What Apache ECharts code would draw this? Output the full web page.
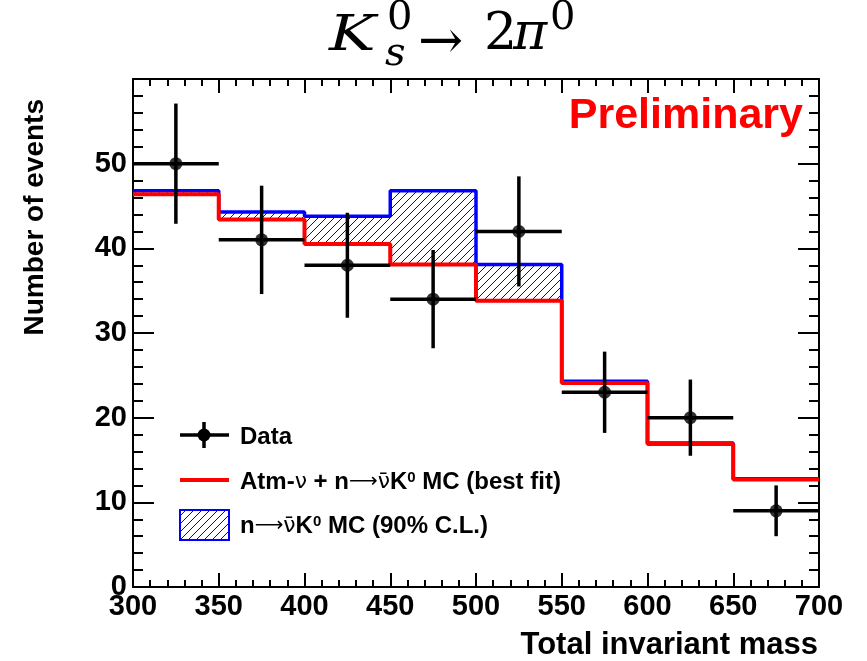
<!DOCTYPE html>
<html>
<head>
<meta charset="utf-8">
<script src="https://cdn.jsdelivr.net/npm/echarts@6/dist/echarts.min.js"></script>
<style>
html,body{margin:0;padding:0;background:#fff;}
#chart{width:867px;height:661px;}
</style>
</head>
<body>
<div id="chart"></div>
<script>
// ---- data ----
const binEdges = [300, 350, 400, 450, 500, 550, 600, 650, 700];
const dataX = [325, 375, 425, 475, 525, 575, 625, 675];
const dataY = [50, 41, 38, 34, 42, 23, 20, 9];
const dataErr = [7.1, 6.4, 6.2, 5.8, 6.5, 4.8, 4.5, 3.0];
const fitY = [46.4, 43.4, 40.5, 38.1, 33.8, 24.1, 16.9, 12.7];   // Atm-nu + n->nubar K0 MC (best fit)
const mcY  = [46.8, 44.3, 43.8, 46.8, 38.1, 24.3, 17.0, 12.8];   // n->nubar K0 MC (90% C.L.)
const xTicks = [300, 350, 400, 450, 500, 550, 600, 650, 700];
const yTicks = [0, 10, 20, 30, 40, 50];

// hatch pattern
function makeHatch() {
  const c = document.createElement('canvas');
  c.width = 8; c.height = 8;
  const g = c.getContext('2d');
  g.strokeStyle = '#000';
  g.lineWidth = 0.9;
  g.beginPath();
  g.moveTo(0, 8); g.lineTo(8, 0);
  g.moveTo(-1, 1); g.lineTo(1, -1);
  g.moveTo(7, 9); g.lineTo(9, 7);
  g.stroke();
  return c;
}
const hatch = { image: makeHatch(), repeat: 'repeat' };

const stepData = (vals) => binEdges.map((e, i) => [e, vals[Math.min(i, vals.length - 1)]]);
const bandData = fitY.map((v, i) => [binEdges[i], binEdges[i + 1], v, mcY[i]]);
const errData = dataX.map((x, i) => [x, dataY[i], dataErr[i], binEdges[i], binEdges[i + 1]]);

const tickColor = '#000';
const labelFont = { color: '#000', fontFamily: 'Liberation Sans', fontWeight: 'bold', fontSize: 29 };

function xAxisDef(pos, showLabel) {
  return {
    type: 'value', min: xTicks[0], max: xTicks[xTicks.length - 1], interval: 50, position: pos,
    axisLine: { onZero: false, lineStyle: { color: tickColor, width: 2 } },
    axisTick: { inside: true, length: 14, lineStyle: { color: tickColor, width: 2 } },
    minorTick: { show: true, splitNumber: 5, length: 7, lineStyle: { color: tickColor, width: 2 } },
    splitLine: { show: false }, minorSplitLine: { show: false },
    axisLabel: Object.assign({ show: showLabel, margin: 5 }, labelFont)
  };
}
function yAxisDef(pos, showLabel) {
  return {
    type: 'value', min: 0, max: 60, interval: 10, position: pos,
    axisLine: { onZero: false, lineStyle: { color: tickColor, width: 2 } },
    axisTick: { inside: true, length: 21, lineStyle: { color: tickColor, width: 2 } },
    minorTick: { show: true, splitNumber: 5, length: 10, lineStyle: { color: tickColor, width: 2 } },
    splitLine: { show: false }, minorSplitLine: { show: false },
    axisLabel: Object.assign({ show: showLabel, margin: 6, showMaxLabel: false,
      formatter: v => (yTicks.indexOf(v) >= 0 ? String(v) : '') }, labelFont)
  };
}

const titleFont = 'DejaVu Serif';
function tt(text, x, y, size, italic, sx) {
  return { type: 'text', x: x, y: y, silent: true, scaleX: sx || 1,
    style: { text: text, fill: '#000', fontFamily: titleFont, fontSize: size,
      fontStyle: italic ? 'italic' : 'normal', textAlign: 'left', textVerticalAlign: 'middle' } };
}

const legRich = {
  b: { fontFamily: 'Liberation Sans', fontWeight: 'bold', fontSize: 24, color: '#000' },
  g: { fontFamily: 'DejaVu Sans', fontWeight: 'normal', fontSize: 22, color: '#000' },
  a: { fontFamily: 'DejaVu Sans', fontWeight: 'normal', fontSize: 20, color: '#000' },
  s: { fontFamily: 'Liberation Sans', fontWeight: 'bold', fontSize: 15, color: '#000', verticalAlign: 'top' }
};

const chart = echarts.init(document.getElementById('chart'), null, { renderer: 'canvas' });
chart.setOption({
  animation: false,
  backgroundColor: '#fff',
  grid: { left: 133, right: 48, top: 79, bottom: 74 },
  xAxis: [xAxisDef('bottom', true), xAxisDef('top', false)],
  yAxis: [yAxisDef('left', true), yAxisDef('right', false)],
  series: [
    {
      name: 'n→ν̄K0 MC (90% C.L.)', type: 'custom', z: 1,
      encode: { x: [0, 1], y: [2, 3] },
      data: bandData,
      renderItem: function (params, api) {
        const p1 = api.coord([api.value(0), api.value(3)]);
        const p2 = api.coord([api.value(1), api.value(2)]);
        return { type: 'rect', shape: { x: p1[0], y: p1[1], width: p2[0] - p1[0], height: p2[1] - p1[1] },
          style: { fill: hatch, stroke: null } };
      }
    },
    {
      name: 'MC upper', type: 'line', step: 'end', showSymbol: false, symbol: 'none', z: 2,
      data: stepData(mcY), lineStyle: { color: '#0000ff', width: 3.5 }
    },
    {
      name: 'Atm-ν + n→ν̄K0 MC (best fit)', type: 'line', step: 'end', showSymbol: false, symbol: 'none', z: 3,
      data: stepData(fitY), lineStyle: { color: '#ff0000', width: 4 }
    },
    {
      name: 'Data errors', type: 'custom', z: 4,
      encode: { x: [0, 3, 4], y: 1 },
      data: errData,
      renderItem: function (params, api) {
        const x = api.value(0), y = api.value(1), e = api.value(2);
        const l = api.coord([api.value(3), y]);
        const r = api.coord([api.value(4), y]);
        const t = api.coord([x, y + e]);
        const b = api.coord([x, y - e]);
        const st = { stroke: '#000', lineWidth: 3.5 };
        return { type: 'group', children: [
          { type: 'line', shape: { x1: l[0], y1: l[1], x2: r[0], y2: r[1] }, style: st },
          { type: 'line', shape: { x1: t[0], y1: t[1], x2: b[0], y2: b[1] }, style: st }
        ] };
      }
    },
    {
      name: 'Data', type: 'scatter', z: 5, symbol: 'circle', symbolSize: 13,
      data: dataX.map((x, i) => [x, dataY[i]]),
      itemStyle: { color: '#000' }
    }
  ],
  graphic: [
    // title K_s^0 -> 2 pi^0
    tt('K', 329, 38, 48, true, 1.3),
    tt('s', 385, 55, 40, true),
    tt('0', 387, 19, 40, false),
    tt('→', 418, 44, 54, false),
    tt('2', 484, 35, 52, false),
    tt('π', 513, 35, 52, true),
    tt('0', 550, 19, 40, false),
    // Preliminary
    { type: 'text', x: 803, y: 116, silent: true,
      style: { text: 'Preliminary', fill: '#ff0000', fontFamily: 'Liberation Sans', fontWeight: 'bold',
        fontSize: 43, textAlign: 'right', textVerticalAlign: 'middle' } },
    // axis titles
    { type: 'text', x: 818, y: 645, silent: true,
      style: { text: 'Total invariant mass', fill: '#000', fontFamily: 'Liberation Sans', fontWeight: 'bold',
        fontSize: 31, textAlign: 'right', textVerticalAlign: 'middle' } },
    { type: 'text', x: 35, y: 99, rotation: Math.PI / 2, silent: true,
      style: { text: 'Number of events', fill: '#000', fontFamily: 'Liberation Sans', fontWeight: 'bold',
        fontSize: 28, textAlign: 'right', textVerticalAlign: 'middle' } },
    // legend: Data
    { type: 'line', silent: true, shape: { x1: 180, y1: 435, x2: 229, y2: 435 }, style: { stroke: '#000', lineWidth: 3.5 } },
    { type: 'line', silent: true, shape: { x1: 204, y1: 422, x2: 204, y2: 448 }, style: { stroke: '#000', lineWidth: 3.5 } },
    { type: 'circle', silent: true, shape: { cx: 204, cy: 435, r: 6.5 }, style: { fill: '#000' } },
    { type: 'text', x: 240, y: 437, silent: true,
      style: { text: 'Data', fill: '#000', fontFamily: 'Liberation Sans', fontWeight: 'bold', fontSize: 24,
        textAlign: 'left', textVerticalAlign: 'middle' } },
    // legend: best fit
    { type: 'line', silent: true, shape: { x1: 180, y1: 480, x2: 229, y2: 480 }, style: { stroke: '#ff0000', lineWidth: 4 } },
    { type: 'text', x: 240, y: 482, silent: true,
      style: { text: '{b|Atm-}{g|ν}{b| + n}{a|⟶}{g|ν̄}{b|K}{s|0}{b| MC (best fit)}', rich: legRich,
        textAlign: 'left', textVerticalAlign: 'middle' } },
    // legend: 90% CL
    { type: 'rect', silent: true, shape: { x: 180, y: 510, width: 49, height: 30 },
      style: { fill: hatch, stroke: '#0000ff', lineWidth: 2 } },
    { type: 'text', x: 240, y: 526, silent: true,
      style: { text: '{b|n}{a|⟶}{g|ν̄}{b|K}{s|0}{b| MC (90% C.L.)}', rich: legRich,
        textAlign: 'left', textVerticalAlign: 'middle' } }
  ]
});
</script>
</body>
</html>
